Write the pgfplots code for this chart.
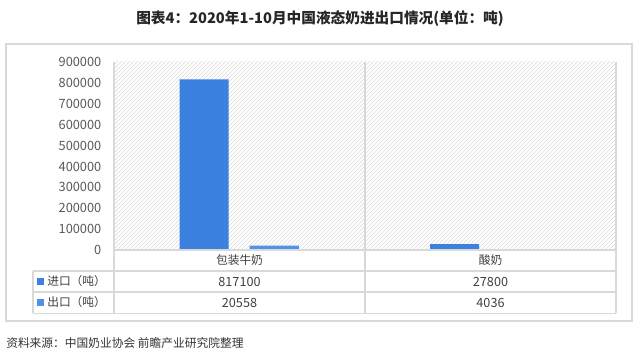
\documentclass[border=0pt]{standalone}
\usepackage{fontspec}
\setmainfont{Noto Sans CJK SC}
\usepackage{pgfplots}
\pgfplotsset{compat=1.18}
\usetikzlibrary{patterns}
\definecolor{imp}{RGB}{60,128,224}
\definecolor{expc}{RGB}{78,146,234}
\definecolor{tickc}{RGB}{89,89,89}
\definecolor{linec}{RGB}{217,217,217}
\definecolor{txtc}{RGB}{64,64,64}
\begin{document}
\begin{tikzpicture}[x=0.75pt,y=0.75pt]
\useasboundingbox (0,0) rectangle (640,363);
% outer frame
\draw[linec, line width=1.4pt] (6,319) rectangle (632,42);
\begin{axis}[
  at={(85.5pt,84.75pt)}, anchor=south west,
  scale only axis, width=375.75pt, height=141pt,
  xmin=-0.5, xmax=1.5, ymin=0, ymax=900000,
  xtick=\empty,
  ytick={0,100000,...,900000},
  scaled y ticks=false,
  major tick length=0pt,
  axis line style={draw=none},
  axis background/.style={fill=white, postaction={pattern=north east lines, pattern color=black!14}},
  yticklabel style={font=\fontsize{9.6}{10}\selectfont, color=tickc, xshift=-6pt},
  /pgf/number format/.cd, fixed, 1000 sep={}, assume math mode=true,
]
\addplot[ybar, bar width=36.75pt, bar shift=-26.25pt, fill=imp, draw=none] coordinates {(0,817100) (1,27800)};
\addplot[ybar, bar width=36.75pt, bar shift=26.25pt, fill=expc, draw=none] coordinates {(0,20558) (1,4036)};
\end{axis}
% table lines
\begin{scope}[linec, line width=1.1pt]
\draw (114,301) -- (114,49.5);
\draw (365,301) -- (365,49.5);
\draw (616,301) -- (616,49.5);
\draw (114,113) -- (616,113);
\draw (33,92) -- (616,92);
\draw (33,71) -- (616,71);
\draw (33,49.5) -- (616,49.5);
\draw (33,92) -- (33,49.5);
\end{scope}
% table text
\begin{scope}[every node/.style={font=\fontsize{8.8}{10}\selectfont, text=txtc, inner sep=0pt}]
\node at (239.5,102.5) {包装牛奶};
\node at (490.5,102.5) {酸奶};
\node[font=\fontsize{9.5}{10}\selectfont] at (239.5,81.5) {817100};
\node[font=\fontsize{9.5}{10}\selectfont] at (490.5,81.5) {27800};
\node[font=\fontsize{9.5}{10}\selectfont] at (239.5,60.5) {20558};
\node[font=\fontsize{9.5}{10}\selectfont] at (490.5,60.5) {4036};
\fill[imp] (37,78) rectangle (44,85);
\fill[expc] (37,57) rectangle (44,64);
\node[anchor=west] at (47,81.5) {进口（吨）};
\node[anchor=west] at (47,60.5) {出口（吨）};
\end{scope}
% title
\node[font=\fontsize{11}{12}\selectfont\bfseries, text=black!85, inner sep=0pt] at (320,344) {图表4：2020年1-10月中国液态奶进出口情况(单位：吨)};
% source
\node[anchor=west, font=\fontsize{8.8}{10}\selectfont, text=black!80, inner sep=0pt] at (6,20) {资料来源：中国奶业协会 前瞻产业研究院整理};
\end{tikzpicture}
\end{document}
